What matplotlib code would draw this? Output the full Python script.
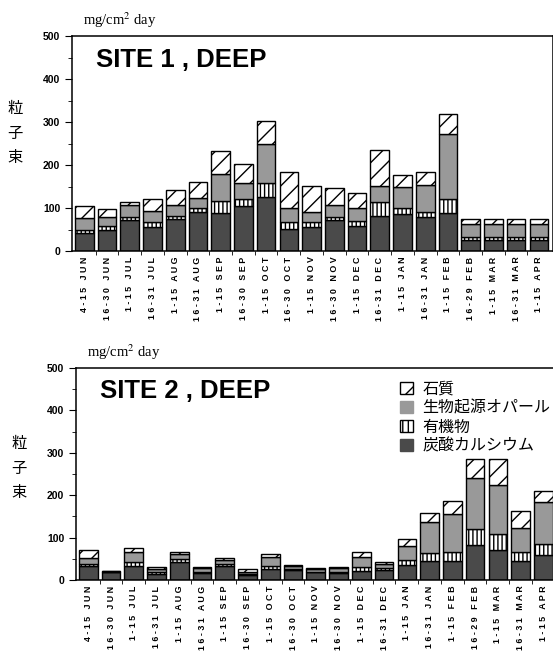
import matplotlib
matplotlib.use("Agg")
import matplotlib.pyplot as plt
import numpy as np
from matplotlib.patches import Patch
from matplotlib.ticker import MultipleLocator

# 期間ラベル
periods = ["4-15 JUN", "16-30 JUN", "1-15 JUL", "16-31 JUL", "1-15 AUG", "16-31 AUG",
           "1-15 SEP", "16-30 SEP", "1-15 OCT", "16-30 OCT", "1-15 NOV", "16-30 NOV",
           "1-15 DEC", "16-31 DEC", "1-15 JAN", "16-31 JAN", "1-15 FEB", "16-29 FEB",
           "1-15 MAR", "16-31 MAR", "1-15 APR"]

# SITE 1 (mg/cm2 day)
s1_carbonate = [41, 49, 71, 55, 74, 91, 88, 104, 126, 52, 55, 72, 58, 82, 87, 79, 88, 25, 25, 25, 25]
s1_organic   = [8, 9, 8, 13, 8, 8, 28, 16, 31, 16, 13, 8, 11, 33, 12, 12, 33, 8, 8, 8, 8]
s1_opal      = [27, 22, 28, 26, 25, 24, 64, 37, 93, 31, 23, 26, 32, 36, 49, 62, 150, 30, 30, 30, 30]
s1_litho     = [28, 18, 6, 27, 35, 37, 53, 45, 52, 84, 60, 40, 33, 83, 29, 31, 47, 11, 11, 11, 11]

# SITE 2
s2_carbonate = [32, 20, 34, 14, 43, 17, 32, 11, 25, 23, 18, 17, 22, 24, 35, 44, 44, 83, 71, 44, 58]
s2_organic   = [6, 0, 8, 4, 6, 2, 5, 4, 7, 3, 2, 2, 8, 4, 11, 19, 22, 37, 38, 21, 27]
s2_opal      = [14, 2, 23, 8, 13, 9, 11, 5, 22, 8, 7, 9, 24, 10, 34, 74, 90, 121, 115, 58, 100]
s2_litho     = [19, 0, 10, 5, 4, 3, 5, 6, 8, 2, 1, 3, 11, 5, 17, 22, 30, 44, 61, 39, 24]

legend_labels = ["石質", "生物起源オパール", "有機物", "炭酸カルシウム"]

plt.rcParams['hatch.linewidth'] = 1.0

fig = plt.figure(figsize=(5.53, 6.58), dpi=100)
ax1 = fig.add_axes([72/553, 1-251/658, 480.5/553, 215/658])
ax2 = fig.add_axes([76/553, 1-580/658, 481/553, 212/658])

x = np.arange(len(periods))
w = 0.82
# 字間を広げる
spaced = [" ".join(p) for p in periods]


def draw(ax, carb, org, opal, lith, title):
    carb = np.array(carb); org = np.array(org); opal = np.array(opal); lith = np.array(lith)
    b1 = ax.bar(x, carb, w, color="#4a4a4a", edgecolor="black", linewidth=1.0)
    b2 = ax.bar(x, org, w, bottom=carb, color="white", edgecolor="black", hatch="||||", linewidth=1.0)
    b3 = ax.bar(x, opal, w, bottom=carb + org, color="#999999", edgecolor="black", linewidth=1.0)
    b4 = ax.bar(x, lith, w, bottom=carb + org + opal, color="white", edgecolor="black", hatch="//", linewidth=1.0)
    ax.set_xlim(-0.54, 20.6)
    ax.set_ylim(0, 500)
    ax.yaxis.set_major_locator(MultipleLocator(100))
    ax.yaxis.set_minor_locator(MultipleLocator(50))
    ax.set_xticks(x)
    ax.set_xticklabels(spaced, rotation=90, fontsize=6.4, fontweight="bold", family="Liberation Sans")
    ax.set_xticks(x[:-1] + 0.5, minor=True)
    ax.tick_params(axis="x", which="major", length=0, pad=4)
    ax.tick_params(axis="x", which="minor", length=3, direction="out")
    ax.tick_params(axis="y", which="major", length=5, direction="out", labelsize=7.5)
    ax.tick_params(axis="y", which="minor", length=3, direction="out")
    for lab in ax.get_yticklabels():
        lab.set_fontweight("bold")
        lab.set_family("Liberation Sans")
    for s in ax.spines.values():
        s.set_linewidth(1.1)
    ax.text(0.05, 0.89, title, transform=ax.transAxes, fontsize=18.5, fontweight="bold",
            family="Liberation Sans", va="center", ha="left")
    ax.text(0.022, 1.075, "mg/cm$^2$ day", transform=ax.transAxes, fontsize=10.5,
            family="Liberation Serif", math_fontfamily="stix", va="center", ha="left")
    return b4, b3, b2, b1


draw(ax1, s1_carbonate, s1_organic, s1_opal, s1_litho, "SITE 1 , DEEP")
draw(ax2, s2_carbonate, s2_organic, s2_opal, s2_litho, "SITE 2 , DEEP")

fig.text(15/553, 1-133/658, "粒\n子\n束", fontsize=11, family="Noto Sans CJK JP",
         ha="center", va="center", linespacing=1.6)
fig.text(19/553, 1-468/658, "粒\n子\n束", fontsize=11, family="Noto Sans CJK JP",
         ha="center", va="center", linespacing=1.6)

leg_handles = [Patch(facecolor="white", edgecolor="black", hatch="/"),
               Patch(facecolor="#999999", edgecolor="#999999"),
               Patch(facecolor="white", edgecolor="black", hatch="|||"),
               Patch(facecolor="#4a4a4a", edgecolor="#4a4a4a")]
ax2.legend(leg_handles, legend_labels, loc="upper left", bbox_to_anchor=(0.66, 0.97),
           frameon=False, prop={"family": "Noto Sans CJK JP", "size": 11.5},
           handlelength=0.8, handleheight=0.8, handletextpad=0.6, labelspacing=0.12,
           borderaxespad=0)

fig.savefig("out.png", dpi=100)
